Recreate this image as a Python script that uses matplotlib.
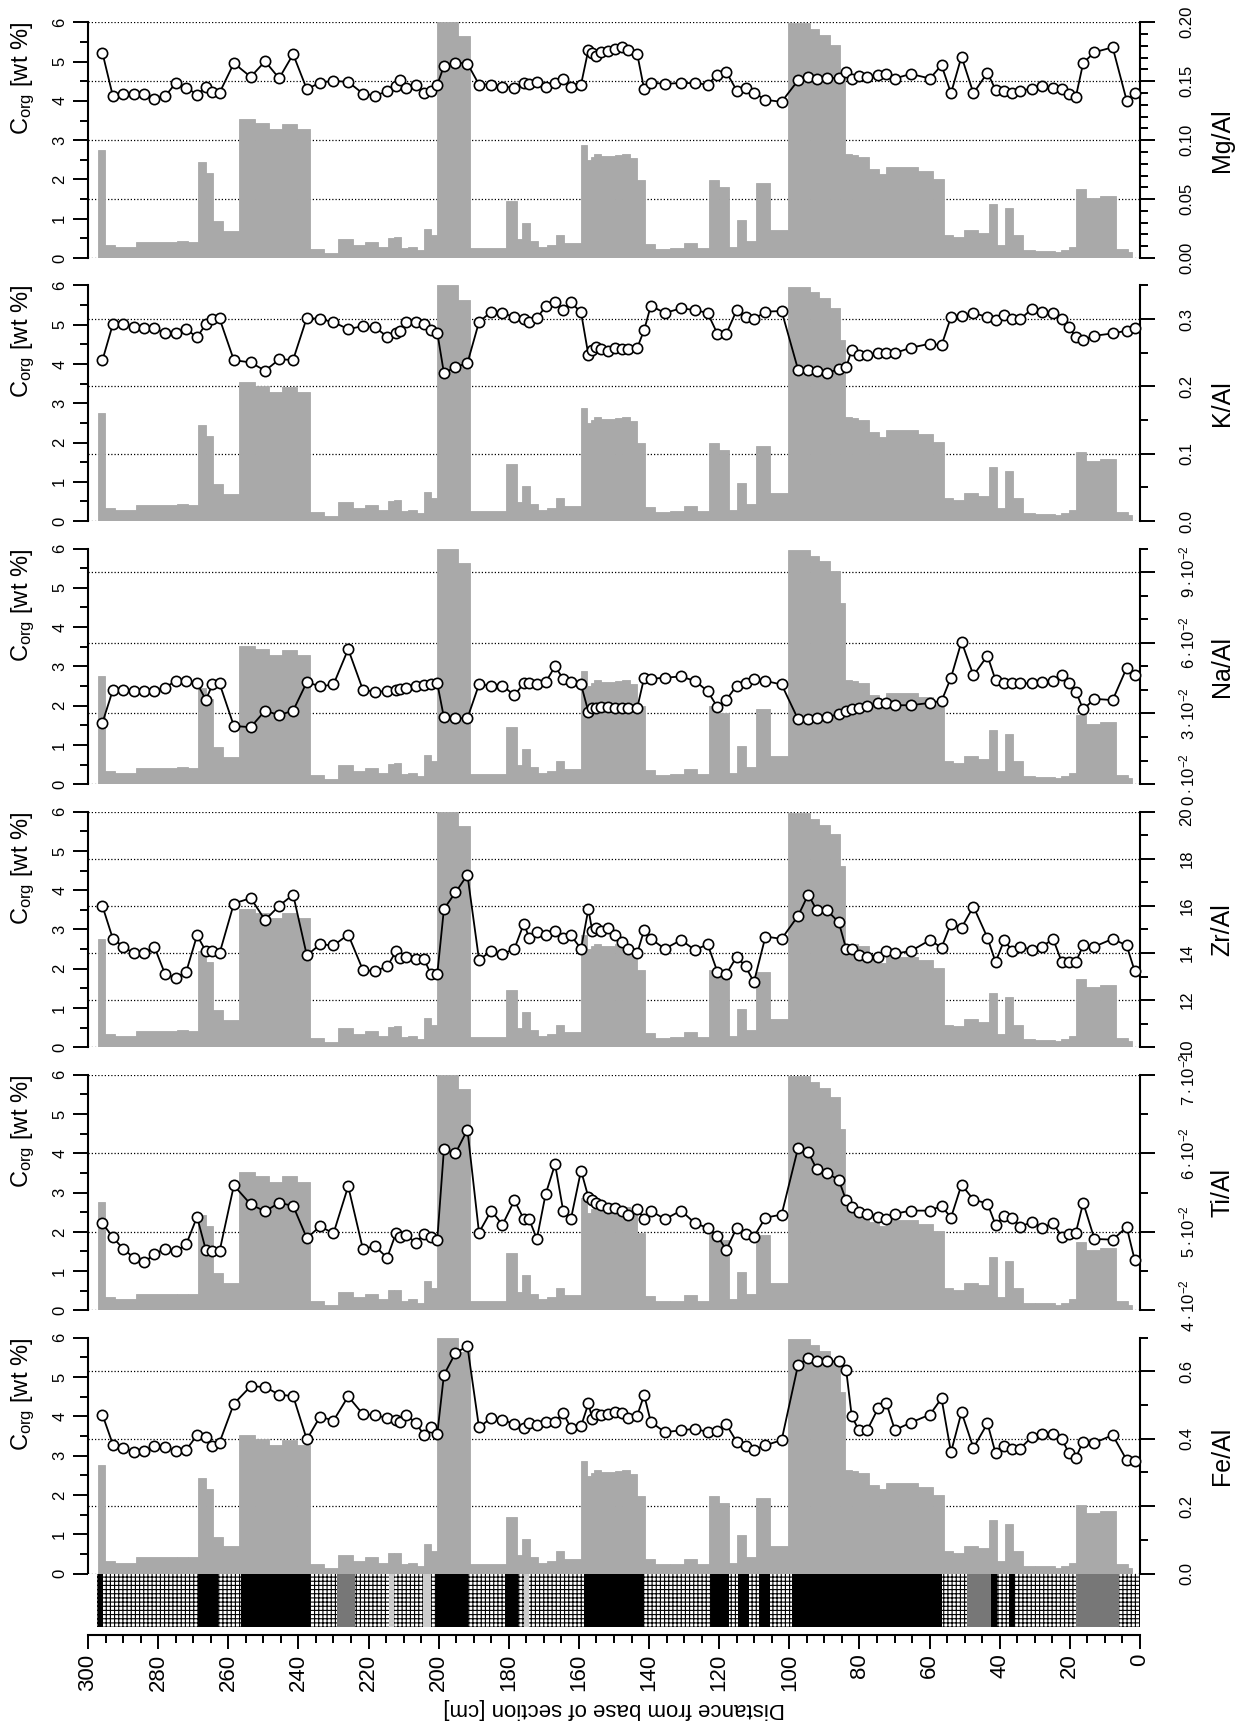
import matplotlib
matplotlib.use("Agg")
import matplotlib.pyplot as plt
import numpy as np
from matplotlib.ticker import MultipleLocator, FixedLocator

plt.rcParams['font.family'] = ['Liberation Sans', 'DejaVu Sans']
plt.rcParams['mathtext.fontset'] = 'custom'
plt.rcParams['mathtext.rm'] = 'Liberation Sans'
plt.rcParams['mathtext.it'] = 'Liberation Sans:italic'
plt.rcParams['hatch.linewidth'] = 0.8

# C_org intervals (depth boundaries in cm, values in wt %)
toc_edges = [297.05, 295.15, 292.3, 286.4, 274.7, 271.4, 268.5, 266.4, 264.4, 261.5,
             256.9, 252.4, 248.4, 244.6, 240.4, 236.7, 232.7, 228.6, 224.5, 221.0,
             217.4, 214.4, 212.65, 210.75, 208.7, 206.2, 204.1, 202.2, 200.4, 194.4,
             191.1, 180.8, 177.8, 176.1, 174.0, 171.8, 169.1, 166.6, 164.3, 159.5,
             157.8, 156.7, 155.7, 153.7, 149.7, 147.6, 145.5, 143.3, 141.2, 138.3,
             134.0, 130.1, 126.2, 122.9, 120.1, 117.2, 114.9, 112.5, 109.6, 105.5,
             100.5, 94.1, 91.5, 88.4, 85.6, 84.0, 82.2, 80.3, 77.3, 74.5,
             72.3, 63.4, 59.1, 55.9, 53.4, 50.2, 46.3, 43.1, 40.8, 38.5,
             36.2, 33.4, 30.0, 24.3, 22.4, 20.3, 18.3, 15.4, 11.4, 6.9,
             3.4, 2.3]
toc_values = [2.75, 0.33, 0.28, 0.41, 0.43, 0.41, 2.44, 2.16, 0.94, 0.69,
              3.53, 3.43, 3.28, 3.41, 3.28, 0.23, 0.13, 0.48, 0.33, 0.41,
              0.28, 0.51, 0.53, 0.25, 0.28, 0.20, 0.74, 0.58, 6.0, 5.64,
              0.25, 1.45, 0.48, 0.89, 0.43, 0.28, 0.33, 0.58, 0.38, 2.87,
              2.49, 2.57, 2.64, 2.59, 2.62, 2.64, 2.54, 1.98, 0.36, 0.23,
              0.25, 0.38, 0.25, 1.98, 1.80, 0.28, 0.97, 0.43, 1.91, 0.71,
              5.97, 5.82, 5.67, 5.42, 4.62, 2.64, 2.62, 2.57, 2.26, 2.14,
              2.31, 2.21, 2.01, 0.58, 0.53, 0.71, 0.64, 1.37, 0.33, 1.27,
              0.58, 0.20, 0.18, 0.15, 0.20, 0.28, 1.75, 1.53, 1.58, 0.23,
              0.15]

# sample depths of the element ratios (cm)
depth = [295.9, 292.9, 289.9, 286.9, 283.9, 281.1, 278.0, 275.0, 272.0, 268.9,
         266.4, 264.5, 262.5, 258.4, 253.6, 249.5, 245.5, 241.5, 237.6, 233.8,
         230.0, 225.8, 221.6, 218.2, 214.7, 212.1, 210.9, 209.2, 206.6, 204.2,
         202.2, 200.4, 198.5, 195.2, 191.8, 188.5, 185.0, 181.8, 178.4, 175.7,
         174.2, 172.0, 169.5, 166.8, 164.5, 162.3, 159.4, 157.3, 156.2, 155.2,
         153.8, 151.8, 149.7, 147.8, 145.9, 143.4, 141.4, 139.5, 135.5, 130.9,
         126.9, 123.3, 120.5, 118.0, 115.0, 112.5, 110.1, 106.8, 102.2, 97.5,
         94.6, 92.2, 89.3, 85.9, 83.8, 82.2, 80.2, 77.8, 74.6, 72.3,
         69.9, 65.4, 59.9, 56.6, 53.9, 50.9, 47.5, 43.5, 41.2, 38.7,
         36.4, 34.2, 30.8, 27.9, 24.8, 22.3, 20.3, 18.3, 16.2, 13.0,
         7.8, 3.8, 1.5]

mg_al = [0.1743, 0.1373, 0.1395, 0.139, 0.139, 0.1353, 0.1373, 0.1483, 0.1446, 0.1387,
         0.1449, 0.1407, 0.1401, 0.1653, 0.1537, 0.1669, 0.1525, 0.1729, 0.1432, 0.1489,
         0.1503, 0.1494, 0.1395, 0.1376, 0.1415, 0.146, 0.1514, 0.1444, 0.1472, 0.1404,
         0.1421, 0.1472, 0.1627, 0.1658, 0.165, 0.1472, 0.1472, 0.1455, 0.1446, 0.1483,
         0.148, 0.1494, 0.1455, 0.1483, 0.1523, 0.1455, 0.1472, 0.1768, 0.174, 0.1712,
         0.1751, 0.176, 0.1777, 0.1794, 0.1763, 0.1734, 0.1432, 0.1489, 0.1477, 0.1486,
         0.1483, 0.1472, 0.1556, 0.1579, 0.1421, 0.1444, 0.1404, 0.1342, 0.1325, 0.1508,
         0.1534, 0.1517, 0.1531, 0.1525, 0.1579, 0.1523, 0.1542, 0.1534, 0.1551, 0.1562,
         0.1523, 0.1562, 0.1523, 0.1636, 0.1398, 0.1709, 0.1398, 0.1573, 0.1427, 0.1415,
         0.1398, 0.1418, 0.1438, 0.146, 0.1441, 0.1438, 0.1393, 0.1367, 0.1655, 0.1746,
         0.1788, 0.1336, 0.1401]

k_al = [0.2386, 0.2926, 0.293, 0.288, 0.287, 0.2866, 0.279, 0.280, 0.285, 0.273,
        0.2926, 0.300, 0.301, 0.239, 0.2356, 0.2233, 0.240, 0.2396, 0.302, 0.300,
        0.2955, 0.285, 0.2896, 0.288, 0.274, 0.280, 0.283, 0.295, 0.2955, 0.2926,
        0.284, 0.280, 0.2198, 0.2287, 0.2347, 0.2955, 0.311, 0.3084, 0.3035, 0.300,
        0.295, 0.301, 0.319, 0.3257, 0.3134, 0.3248, 0.310, 0.2465, 0.2535, 0.2584,
        0.256, 0.252, 0.2574, 0.2554, 0.2554, 0.257, 0.2837, 0.3198, 0.309, 0.316,
        0.3134, 0.309, 0.278, 0.278, 0.3134, 0.3025, 0.300, 0.311, 0.312, 0.2248,
        0.2248, 0.2223, 0.2198, 0.2257, 0.2282, 0.2545, 0.246, 0.2465, 0.2495, 0.2495,
        0.2495, 0.2574, 0.2634, 0.261, 0.303, 0.304, 0.309, 0.303, 0.2985, 0.306,
        0.3005, 0.2995, 0.3153, 0.311, 0.3084, 0.2995, 0.2886, 0.2728, 0.2693, 0.2752,
        0.2787, 0.2827, 0.2861]

na_al = [0.026, 0.040, 0.040, 0.0395, 0.0395, 0.0395, 0.041, 0.0438, 0.0438, 0.0428,
         0.0358, 0.0423, 0.0428, 0.0247, 0.0242, 0.0312, 0.0293, 0.0312, 0.0433, 0.0415,
         0.0423, 0.0573, 0.040, 0.0392, 0.0395, 0.040, 0.0405, 0.041, 0.0415, 0.042,
         0.0423, 0.0428, 0.0283, 0.028, 0.028, 0.0423, 0.0418, 0.0418, 0.0377, 0.0428,
         0.0428, 0.0423, 0.0433, 0.050, 0.0447, 0.0433, 0.0423, 0.0307, 0.0322, 0.0322,
         0.0327, 0.0327, 0.0322, 0.0322, 0.0322, 0.0322, 0.0452, 0.0447, 0.0452, 0.0457,
         0.0438, 0.0395, 0.0327, 0.0358, 0.0418, 0.0428, 0.0447, 0.0438, 0.0423, 0.0275,
         0.0275, 0.028, 0.0283, 0.0298, 0.0312, 0.0317, 0.0322, 0.033, 0.0345, 0.0345,
         0.0335, 0.0335, 0.0345, 0.0353, 0.0452, 0.0605, 0.0462, 0.0545, 0.0442, 0.0428,
         0.0428, 0.0428, 0.0428, 0.0433, 0.0436, 0.0462, 0.0429, 0.0393, 0.0317, 0.0362,
         0.0357, 0.0493, 0.0462]

zr_al = [16.0, 14.6, 14.27, 13.98, 13.98, 14.27, 13.1, 12.95, 13.2, 14.75,
         14.08, 14.08, 13.98, 16.1, 16.33, 15.4, 16.0, 16.48, 13.9, 14.37,
         14.32, 14.78, 13.28, 13.23, 13.43, 14.08, 13.8, 13.85, 13.75, 13.75,
         13.1, 13.1, 15.87, 16.57, 17.32, 13.72, 14.08, 13.95, 14.18, 15.25,
         14.65, 14.88, 14.75, 14.93, 14.65, 14.75, 14.18, 15.87, 14.93, 15.07,
         14.93, 15.07, 14.75, 14.47, 14.18, 13.98, 14.98, 14.6, 14.18, 14.55,
         14.13, 14.37, 13.2, 13.1, 13.85, 13.43, 12.77, 14.7, 14.6, 15.58,
         16.48, 15.82, 15.82, 15.3, 14.18, 14.18, 13.9, 13.85, 13.85, 14.08,
         13.98, 14.08, 14.55, 14.23, 15.25, 15.07, 15.97, 14.65, 13.62, 14.55,
         14.08, 14.27, 14.13, 14.27, 14.6, 13.62, 13.62, 13.62, 14.32, 14.27,
         14.6, 14.32, 13.23]

ti_al = [0.0511, 0.0493, 0.0478, 0.0467, 0.0461, 0.0472, 0.0478, 0.0475, 0.0484, 0.0519,
         0.0477, 0.0475, 0.0475, 0.0559, 0.0535, 0.0526, 0.0537, 0.0533, 0.0492, 0.0507,
         0.0498, 0.0558, 0.0478, 0.0482, 0.0467, 0.0499, 0.0494, 0.0496, 0.0486, 0.0497,
         0.0494, 0.049, 0.0605, 0.060, 0.063, 0.0499, 0.0527, 0.0509, 0.054, 0.0516,
         0.0516, 0.0491, 0.0548, 0.0586, 0.0527, 0.0516, 0.0578, 0.0544, 0.054, 0.0537,
         0.0534, 0.053, 0.053, 0.0526, 0.0522, 0.0529, 0.0516, 0.0527, 0.0516, 0.0527,
         0.0511, 0.0505, 0.0495, 0.0477, 0.0505, 0.0497, 0.0494, 0.0518, 0.0522, 0.0607,
         0.0601, 0.058, 0.0575, 0.0566, 0.054, 0.0532, 0.0525, 0.0523, 0.0519, 0.0516,
         0.0523, 0.0527, 0.0527, 0.0533, 0.0518, 0.056, 0.0541, 0.0536, 0.0509, 0.052,
         0.0518, 0.0506, 0.0513, 0.0505, 0.0511, 0.0494, 0.0497, 0.0499, 0.0537, 0.0491,
         0.049, 0.0506, 0.0464]

fe_al = [0.472, 0.383, 0.373, 0.361, 0.363, 0.378, 0.375, 0.364, 0.367, 0.411,
         0.405, 0.379, 0.389, 0.504, 0.556, 0.554, 0.531, 0.527, 0.398, 0.466,
         0.454, 0.526, 0.473, 0.470, 0.462, 0.457, 0.450, 0.470, 0.448, 0.412,
         0.434, 0.414, 0.59, 0.655, 0.675, 0.434, 0.462, 0.457, 0.443, 0.432,
         0.448, 0.441, 0.449, 0.450, 0.477, 0.432, 0.4375, 0.505, 0.46, 0.474,
         0.471, 0.473, 0.48, 0.477, 0.462, 0.469, 0.53, 0.45, 0.42, 0.425,
         0.43, 0.42, 0.423, 0.443, 0.391, 0.378, 0.368, 0.381, 0.396, 0.62,
         0.64, 0.63, 0.63, 0.63, 0.605, 0.467, 0.426, 0.426, 0.492, 0.505,
         0.426, 0.448, 0.472, 0.52, 0.36, 0.479, 0.373, 0.446, 0.358, 0.38,
         0.371, 0.371, 0.406, 0.413, 0.413, 0.4, 0.358, 0.344, 0.392, 0.388,
         0.411, 0.337, 0.333]

# lithology column
litho_top = [297.2, 268.7, 256.5, 200.9, 181.2, 158.6, 122.2, 114.5, 108.6, 99.2, 42.4, 37.5,
             228.9, 49.2, 18.2,
             214.2, 204.6, 175.8]
litho_base = [295.7, 263.0, 236.8, 191.6, 177.5, 141.4, 117.2, 111.6, 105.4, 56.5, 40.8, 36.0,
              223.8, 42.4, 5.9,
              212.8, 202.1, 174.3]
litho_kind = ['black'] * 12 + ['dark'] * 3 + ['light'] * 3

W, H = 1243, 1723
x0, x1 = 88, 1140
PH = 235.7  # panel height in pixels


def rect(top, bottom):
    return [x0 / W, 1 - bottom / H, (x1 - x0) / W, (bottom - top) / H]


def sci(v):
    return r'$%d\cdot10^{-2}$' % round(v * 100)


panels = [
    ('Mg/Al', mg_al, (0, 0.2), [0, 0.05, 0.1, 0.15, 0.2], 0.01, lambda v: '%.2f' % v),
    ('K/Al', k_al, (0, 0.35), [0, 0.1, 0.2, 0.3], 0.05, lambda v: '%.1f' % v),
    ('Na/Al', na_al, (0, 0.10), [0, 0.03, 0.06, 0.09], 0.01, sci),
    ('Zr/Al', zr_al, (10, 20), [10, 12, 14, 16, 18, 20], 1, lambda v: '%d' % v),
    ('Ti/Al', ti_al, (0.04, 0.07), [0.04, 0.05, 0.06, 0.07], 0.005, sci),
    ('Fe/Al', fe_al, (0, 0.7), [0, 0.2, 0.4, 0.6], 0.1, lambda v: '%.1f' % v),
]

fig = plt.figure(figsize=(W / 100, H / 100), dpi=100)

edges = np.array(toc_edges)
n = min(len(edges) - 1, len(toc_values))

for i, (name, vals, lim, major, minor, fmt) in enumerate(panels):
    top = 22.3 + 263.1 * i
    bottom = top + PH
    ax = fig.add_axes(rect(top, bottom))
    ax.set_xlim(300, 0)
    ax.set_ylim(0, 6)
    ax.bar(edges[:n], toc_values[:n], width=np.diff(edges)[:n], align='edge',
           color='#a9a9a9', edgecolor='#a9a9a9', linewidth=0.6, zorder=1)
    for m in major:
        c = (m - lim[0]) / (lim[1] - lim[0]) * 6
        ax.axhline(c, color='black', lw=0.9, ls=(0, (1, 1.6)), zorder=0.5)
    for s in ['top', 'bottom', 'right']:
        ax.spines[s].set_visible(False)
    ax.spines['left'].set_linewidth(1.5)
    ax.set_xticks([])
    ax.set_yticks(range(7))
    ax.yaxis.set_minor_locator(MultipleLocator(0.5))
    ax.tick_params(axis='y', which='major', length=11, width=1.4, labelsize=12,
                   pad=4, labelrotation=90)
    ax.tick_params(axis='y', which='minor', length=5.5, width=1.4)
    for lab in ax.get_yticklabels():
        lab.set_va('center')

    ax2 = ax.twinx()
    ax2.set_ylim(*lim)
    ax2.plot(depth[:len(vals)], vals, '-o', color='black', lw=1.3, ms=7.4,
             mfc='white', mec='black', mew=1.2, clip_on=False, zorder=3)
    for s in ['top', 'bottom', 'left']:
        ax2.spines[s].set_visible(False)
    ax2.spines['right'].set_linewidth(1.5)
    ax2.yaxis.set_major_locator(FixedLocator(major))
    ax2.yaxis.set_minor_locator(MultipleLocator(minor))
    ax2.tick_params(axis='y', which='major', length=11, width=1.4, labelright=False)
    ax2.tick_params(axis='y', which='minor', length=5.5, width=1.4)

    # right-hand tick labels, drawn as texts; the outermost ones of the
    # crowded panels are nudged a little toward the panel centre
    span = lim[1] - lim[0]
    for v in major:
        y = v
        if name in ('Na/Al', 'Ti/Al') and v == lim[0]:
            y = v + 5 / PH * span
        if name in ('Zr/Al', 'Ti/Al') and v == lim[1]:
            y = v - 5 / PH * span
        ax2.text((1187 - x0) / (x1 - x0), y, fmt(v), rotation=90, ha='center',
                 va='center', fontsize=12, transform=ax2.get_yaxis_transform(),
                 clip_on=False)

    fig.text(23 / W, 1 - top / H, r'C$_{\mathrm{org}}$ [wt %]', rotation=90,
             ha='center', va='top', fontsize=17)
    fig.text(1222 / W, 1 - (top + bottom) / 2 / H, name, rotation=90,
             ha='center', va='center', fontsize=18)

# lithology column and depth axis
axl = fig.add_axes(rect(1573.7, 1627))
axl.set_xlim(300, 0)
axl.set_ylim(0, 1)
axl.bar(297.3, 1, width=-297.3, align='edge', facecolor='white',
        edgecolor='black', hatch='++++', linewidth=0)
colors = {'black': 'black', 'dark': '#777777', 'light': '#cccccc'}
for t, b, k in zip(litho_top, litho_base, litho_kind):
    axl.bar(t, 1, width=b - t, align='edge', color=colors[k], linewidth=0)
for s in ['top', 'left', 'right']:
    axl.spines[s].set_visible(False)
axl.spines['bottom'].set_position(('outward', 6))
axl.spines['bottom'].set_linewidth(1.5)
axl.set_yticks([])
axl.set_xticks(range(0, 301, 20))
axl.xaxis.set_minor_locator(MultipleLocator(5))
axl.tick_params(axis='x', which='major', length=10, width=1.4, labelsize=16,
                pad=3, labelrotation=90)
axl.tick_params(axis='x', which='minor', length=6, width=1.4)

fig.text(614 / W, 1 - 1708 / H, 'Distance from base of section [cm]', rotation=180,
         ha='center', va='center', fontsize=16)

fig.savefig('out.png', dpi=100)
